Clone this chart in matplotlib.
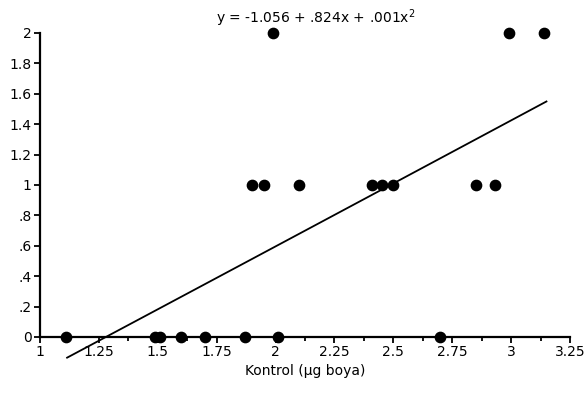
"""
Scatter of Kontrol vs response with the fitted curve from the title
"""
import matplotlib.pyplot as plt
import numpy as np
from matplotlib.ticker import MultipleLocator

# data
x_zero = [1.11, 1.49, 1.51, 1.60, 1.70, 1.87, 2.01, 2.70]
x_one = [1.90, 1.95, 2.10, 2.41, 2.45, 2.50, 2.85, 2.93]
x_two = [1.99, 2.99, 3.14]

# fit coefficients from the title: y = b0 + b1*x + b2*x^2
b0, b1, b2 = -1.056, 0.824, 0.001
fit_x_range = [1.115, 3.15]

xticks = [1, 1.25, 1.5, 1.75, 2, 2.25, 2.5, 2.75, 3, 3.25]
xtick_labels = ["1", "1.25", "1.5", "1.75", "2", "2.25", "2.5", "2.75", "3", "3.25"]
yticks = [0, 0.2, 0.4, 0.6, 0.8, 1, 1.2, 1.4, 1.6, 1.8, 2]
ytick_labels = ["0", ".2", ".4", ".6", ".8", "1", "1.2", "1.4", "1.6", "1.8", "2"]

plt.rcParams["font.family"] = ["DejaVu Sans"]

fig = plt.figure(figsize=(5.87, 3.94), dpi=100)
ax = fig.add_axes([40 / 587, 1 - 337 / 394, 530 / 587, 304 / 394])

# points
xs = x_zero + x_one + x_two
ys = [0] * len(x_zero) + [1] * len(x_one) + [2] * len(x_two)
ax.scatter(xs, ys, s=55, color="black", zorder=3, clip_on=False)

# fitted curve
fx = np.linspace(fit_x_range[0], fit_x_range[1], 50)
fy = b0 + b1 * fx + b2 * fx ** 2
ax.plot(fx, fy, color="black", lw=1.3, clip_on=False)

ax.set_xlim(1, 3.25)
ax.set_ylim(0, 2)
ax.set_xticks(xticks)
ax.set_xticklabels(xtick_labels)
ax.set_yticks(yticks)
ax.set_yticklabels(ytick_labels)
ax.xaxis.set_minor_locator(MultipleLocator(0.125))

for side in ["top", "right"]:
    ax.spines[side].set_visible(False)
for side in ["left", "bottom"]:
    ax.spines[side].set_linewidth(1.6)

ax.tick_params(axis="both", labelsize=10, width=1.3, length=4, direction="out", pad=2)
ax.tick_params(axis="x", which="minor", width=1.3, length=3, direction="out")

ax.set_xlabel("Kontrol (\u00b5g boya)", fontsize=10, labelpad=3)
ax.set_title("y = -1.056 + .824x + .001x$^2$", fontsize=10, x=0.52, pad=7)

plt.savefig("out.png", dpi=100)
